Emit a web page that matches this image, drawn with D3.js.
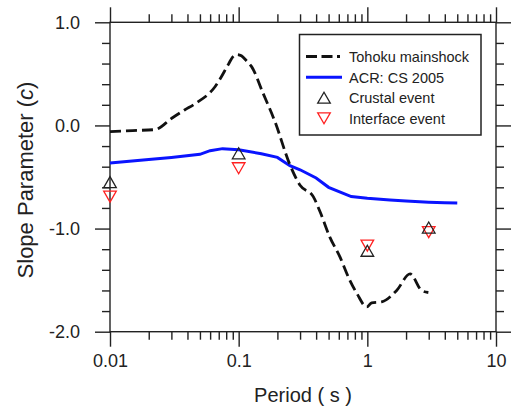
<!DOCTYPE html>
<html><head><meta charset="utf-8">
<script src="https://cdn.jsdelivr.net/npm/d3@7"></script>
<style>
body{margin:0;background:#fff}
text{font-family:"Liberation Sans",Arial,sans-serif;fill:#222}
</style>
</head><body><svg id="c" width="512" height="407"></svg>
<script>
// ---- data ----
const tohokuPeriods = [0.01, 0.015, 0.0224, 0.0302, 0.038, 0.0458, 0.0655, 0.083, 0.09, 0.0966, 0.105, 0.1153, 0.126, 0.155, 0.191, 0.25, 0.30, 0.38, 0.43, 0.51, 0.61, 0.73, 0.83, 0.99, 1.08, 1.29, 1.69, 2.15, 2.64, 2.98];
const tohokuValues  = [-0.06, -0.05, -0.04, 0.07, 0.15, 0.21, 0.375, 0.59, 0.665, 0.688, 0.675, 0.625, 0.57, 0.31, 0.04, -0.38, -0.58, -0.69, -0.84, -1.08, -1.27, -1.50, -1.63, -1.76, -1.72, -1.71, -1.60, -1.44, -1.60, -1.62];
const acrPeriods = [0.01, 0.02, 0.03, 0.05, 0.06, 0.075, 0.1, 0.15, 0.2, 0.25, 0.3, 0.4, 0.5, 0.75, 1, 1.5, 2, 3, 4, 5];
const acrValues  = [-0.365, -0.33, -0.31, -0.28, -0.245, -0.225, -0.235, -0.275, -0.31, -0.39, -0.43, -0.51, -0.60, -0.69, -0.707, -0.723, -0.733, -0.744, -0.749, -0.752];
const eventPeriods = [0.01, 0.1, 1, 3];
const crustalValues = [-0.55, -0.27, -1.215, -0.99];
const interfaceValues = [-0.69, -0.415, -1.165, -1.035];
const xTicks = [0.01, 0.1, 1, 10];
const xTickLabels = ["0.01", "0.1", "1", "10"];
const yTicks = [1, 0, -1, -2];
const yTickLabels = ["1.0", "0.0", "-1.0", "-2.0"];
const legendLabels = ["Tohoku mainshock", "ACR: CS 2005", "Crustal event", "Interface event"];

// ---- scales ----
const svg = d3.select("#c");
const L = 110, R = 496, T = 22.3, B = 331.7;
const x = d3.scaleLog().domain([0.01, 10]).range([L, R]);
const y = d3.scaleLinear().domain([-2, 1]).range([B, T]);

const xMinor = [];
[0.01, 0.1, 1].forEach(d => { for (let k = 2; k <= 9; k++) xMinor.push(+(d * k).toPrecision(3)); });
const yMinor = d3.range(-2, 1.001, 0.2).map(v => +v.toFixed(2)).filter(v => !yTicks.includes(v));

const axisColor = "#222";
function styleAxis(g) {
  g.select(".domain").remove();
  g.selectAll(".tick line").attr("stroke", axisColor).attr("stroke-width", 1.4);
}

// bottom
svg.append("g").attr("transform", `translate(0,${B})`)
  .call(d3.axisBottom(x).tickValues(xMinor).tickSize(8).tickFormat(""))
  .call(styleAxis);
const gb = svg.append("g").attr("transform", `translate(0,${B})`)
  .call(d3.axisBottom(x).tickValues(xTicks).tickSize(15).tickPadding(8)
    .tickFormat((d, i) => xTickLabels[i]))
  .call(styleAxis);
gb.selectAll("text").attr("font-size", 18).attr("fill", "#222");
// top
svg.append("g").attr("transform", `translate(0,${T})`)
  .call(d3.axisTop(x).tickValues(xMinor).tickSize(8).tickFormat(""))
  .call(styleAxis);
svg.append("g").attr("transform", `translate(0,${T})`)
  .call(d3.axisTop(x).tickValues(xTicks).tickSize(15).tickFormat(""))
  .call(styleAxis);
// left
svg.append("g").attr("transform", `translate(${L},0)`)
  .call(d3.axisLeft(y).tickValues(yMinor).tickSize(8).tickFormat(""))
  .call(styleAxis);
const gl = svg.append("g").attr("transform", `translate(${L},0)`)
  .call(d3.axisLeft(y).tickValues(yTicks).tickSize(15).tickPadding(15)
    .tickFormat((d, i) => yTickLabels[i]))
  .call(styleAxis);
gl.selectAll("text").attr("font-size", 18).attr("fill", "#222");
// right
svg.append("g").attr("transform", `translate(${R},0)`)
  .call(d3.axisRight(y).tickValues(yMinor).tickSize(8).tickFormat(""))
  .call(styleAxis);
svg.append("g").attr("transform", `translate(${R},0)`)
  .call(d3.axisRight(y).tickValues(yTicks).tickSize(15).tickFormat(""))
  .call(styleAxis);

// frame
svg.append("rect").attr("x", L).attr("y", T).attr("width", R - L).attr("height", B - T)
  .attr("fill", "none").attr("stroke", axisColor).attr("stroke-width", 1.4);

// axis titles
svg.append("text").attr("x", (L + R) / 2).attr("y", 402).attr("text-anchor", "middle")
  .attr("font-size", 20).text("Period ( s )");
const yt = svg.append("text").attr("transform", "translate(33,180) rotate(-90)")
  .attr("text-anchor", "middle").attr("font-size", 22);
yt.append("tspan").text("Slope Parameter (");
yt.append("tspan").attr("font-style", "italic").text("c");
yt.append("tspan").text(")");

// ---- lines ----
const legendDash = "11,4.5,11,4.5,3,4.5";
const plotDash = "11,5";
const tohoku = tohokuPeriods.map((p, i) => [p, tohokuValues[i]]);
const acr = acrPeriods.map((p, i) => [p, acrValues[i]]);
const line = d3.line().x(d => x(d[0])).y(d => y(d[1]));

svg.append("path").datum(acr).attr("d", line.curve(d3.curveLinear))
  .attr("fill", "none").attr("stroke", "#0a14ff").attr("stroke-width", 3);
svg.append("path").datum(tohoku).attr("d", line.curve(d3.curveMonotoneX))
  .attr("fill", "none").attr("stroke", "#111").attr("stroke-width", 2.8)
  .attr("stroke-dasharray", plotDash);

// ---- markers ----
const hw = 6.3, hh = 5.5;
const up = (cx, cy) => `M${cx - hw},${cy + hh}L${cx + hw},${cy + hh}L${cx},${cy - hh}Z`;
const down = (cx, cy) => `M${cx - hw},${cy - hh}L${cx + hw},${cy - hh}L${cx},${cy + hh}Z`;
svg.append("g").selectAll("path").data(eventPeriods).join("path")
  .attr("d", (p, i) => down(x(p), y(interfaceValues[i])))
  .attr("fill", "none").attr("stroke", "#ff2020").attr("stroke-width", 1.3);
svg.append("g").selectAll("path").data(eventPeriods).join("path")
  .attr("d", (p, i) => up(x(p), y(crustalValues[i])))
  .attr("fill", "none").attr("stroke", "#222").attr("stroke-width", 1.3);

// ---- legend ----
const lg = svg.append("g");
lg.append("rect").attr("x", 299.5).attr("y", 34.5).attr("width", 181.5).attr("height", 100.5)
  .attr("fill", "#fff").attr("stroke", "#222").attr("stroke-width", 1.5);
const rowY = [56.5, 77.3, 97.7, 118.3];
lg.append("line").attr("x1", 306).attr("x2", 342).attr("y1", rowY[0]).attr("y2", rowY[0])
  .attr("stroke", "#111").attr("stroke-width", 2.8).attr("stroke-dasharray", legendDash);
lg.append("line").attr("x1", 306).attr("x2", 342).attr("y1", rowY[1]).attr("y2", rowY[1])
  .attr("stroke", "#0a14ff").attr("stroke-width", 3);
lg.append("path").attr("d", up(324, rowY[2])).attr("fill", "none").attr("stroke", "#222").attr("stroke-width", 1.3);
lg.append("path").attr("d", down(324, rowY[3])).attr("fill", "none").attr("stroke", "#ff2020").attr("stroke-width", 1.3);
lg.selectAll("text.lbl").data(legendLabels).join("text").attr("class", "lbl")
  .attr("x", 349).attr("y", (d, i) => rowY[i]).attr("dy", "0.36em")
  .attr("font-size", 14.5).text(d => d);
</script>
</body></html>
